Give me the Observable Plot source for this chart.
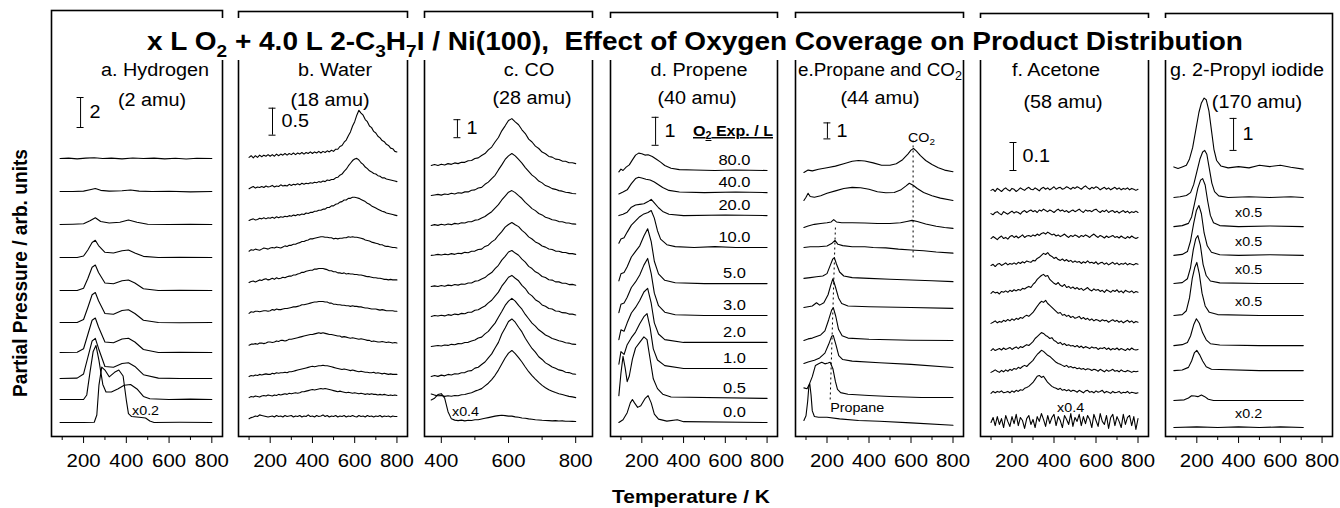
<!DOCTYPE html>
<html><head><meta charset="utf-8">
<script src="https://cdn.jsdelivr.net/npm/d3@7"></script>
<script src="https://cdn.jsdelivr.net/npm/@observablehq/plot@0.6"></script>
<style>
body{margin:0;background:#fff;}
#fig{position:relative;width:1340px;height:508px;overflow:hidden;background:#fff;font-family:"Liberation Sans",Arial,sans-serif;}
#fig svg{position:absolute;top:0;}
</style></head><body><div id="fig"></div>
<script>
const FONT = "'Liberation Sans', Arial, Helvetica, sans-serif";
// ---- data ----
const exposures = ["80.0","40.0","20.0","10.0","5.0","3.0","2.0","1.0","0.5","0.0"];
const tFine = d3.range(100, 801, 10);   // sample temperatures, water & acetone
const tCO = d3.range(370, 801, 10);     // sample temperatures, CO

// a. Hydrogen (2 amu) [T, intensity]
const hydrogenOffsets = [18.53,16.33,14.13,11.93,9.73,7.6,5.6,3.87,2.47,0.93];
const hydrogenFactor = ["","","","","","","","","","x0.2"];
const hydrogen = [
 [[90,0],[130,.03],[170,-.02],[210,.03],[250,.05],[290,0],[330,.03],[380,-.02],[430,.04],[480,0],[530,.03],[580,-.02],[630,.02],[680,-.03],[730,.02],[800,0]],
 [[90,0],[150,0],[200,.03],[230,.12],[255,.2],[280,.08],[320,.03],[380,.05],[420,.1],[460,.03],[520,0],[600,.02],[700,-.02],[800,0]],
 [[90,0],[150,.02],[200,.05],[230,.25],[255,.45],[280,.2],[320,.1],[370,.15],[410,.3],[450,.15],[500,.02],[600,0],[700,.02],[800,0]],
 [[90,0],[170,0],[200,.1],[220,.5],[240,1.0],[255,1.15],[270,.8],[300,.35],[340,.3],[380,.45],[410,.5],[440,.3],[480,.08],[550,0],[650,.02],[800,0]],
 [[90,0],[170,0],[200,.15],[220,.8],[240,1.55],[255,1.7],[270,1.2],[300,.5],[340,.45],[380,.65],[410,.7],[440,.5],[480,.12],[550,0],[650,.02],[800,0]],
 [[90,0],[170,0],[200,.2],[220,1.0],[240,1.85],[255,2.0],[270,1.45],[300,.6],[340,.55],[380,.8],[410,.85],[440,.6],[480,.15],[550,0],[650,-.02],[800,0]],
 [[90,0],[170,.02],[200,.25],[220,1.2],[240,2.15],[255,2.3],[270,1.7],[300,.7],[340,.65],[380,.9],[410,.95],[440,.7],[480,.2],[550,0],[650,.02],[800,0]],
 [[90,0],[170,.02],[200,.3],[220,1.4],[240,2.5],[255,2.67],[270,2.0],[300,.8],[340,.75],[380,1.0],[410,1.05],[440,.8],[480,.25],[550,.02],[650,0],[800,0]],
 [[90,0],[200,0],[215,.3],[230,1.8],[245,3.2],[258,3.6],[272,2.6],[290,1.0],[305,.5],[330,.5],[360,.7],[390,.95],[420,1.0],[450,.7],[480,.2],[510,.05],[600,0],[700,.02],[800,0]],
 [[90,0],[200,0],[250,.02],[262,.5],[272,2.5],[285,3.7],[300,3.5],[320,3.05],[345,3.35],[365,3.5],[385,3.1],[400,1.5],[410,.6],[425,.4],[460,.35],[490,.3],[510,.1],[530,0],[650,.02],[800,0]]
];

// b. Water (18 amu), sampled on tFine
const waterOffsets = [5.17,4.59,4.0,3.43,2.85,2.28,1.69,1.11,0.72,0.33];
const water = [
 [0,.03,-.01,.03,0,.04,.01,.04,.02,.05, .02,.05,.02,.06,.03,.06,.04,.07,.04,.07, .05,.08,.05,.08,.06,.09,.06,.09,.07,.1, .07,.1,.08,.11,.08,.11,.09,.12,.1,.13, .11,.15,.15,.2,.22,.28,.32,.4,.47,.58, .66,.78,.87,.82,.78,.7,.66,.58,.55,.48, .45,.39,.36,.31,.29,.24,.22,.17,.16,.11,.1],
 [0,.02,.04,.01,.03,.02,.04,.02,.05,.03, .04,.06,.03,.05,.04,.07,.05,.06,.05,.08, .06,.08,.07,.09,.07,.1,.08,.1,.09,.11, .1,.12,.11,.13,.12,.14,.13,.16,.15,.17, .17,.2,.21,.25,.27,.32,.36,.42,.47,.52, .55,.56,.53,.48,.45,.4,.37,.33,.31,.28, .27,.24,.23,.2,.2,.18,.17,.16,.15,.14,.13],
 [0,.02,.03,.01,.02,.04,.03,.05,.03,.05, .04,.06,.04,.07,.05,.07,.06,.08,.07,.09, .08,.1,.09,.11,.1,.12,.11,.14,.13,.15, .15,.17,.17,.19,.19,.21,.21,.24,.24,.27, .27,.3,.31,.34,.35,.38,.38,.41,.41,.43, .43,.42,.41,.39,.37,.35,.32,.3,.27,.25, .23,.21,.19,.17,.16,.14,.13,.12,.11,.1,.09],
 [0,.03,.02,.04,.03,.02,.04,.06,.05,.04, .06,.07,.06,.08,.07,.06,.08,.1,.09,.11, .11,.13,.13,.15,.16,.18,.18,.2,.21,.23, .23,.24,.25,.26,.27,.27,.26,.26,.25,.25, .23,.24,.23,.24,.24,.25,.25,.27,.26,.27, .26,.26,.25,.24,.23,.21,.2,.19,.17,.16, .15,.14,.12,.12,.1,.09,.09,.08,.07,.07,.06],
 [0,.02,.03,.01,.03,.05,.04,.06,.07,.05, .06,.08,.06,.09,.07,.08,.1,.09,.11,.12, .12,.14,.14,.16,.17,.19,.19,.21,.22,.23, .23,.25,.25,.26,.26,.26,.25,.24,.22,.22, .2,.2,.18,.18,.17,.18,.16,.17,.16,.16, .15,.15,.14,.14,.13,.12,.11,.11,.1,.09, .09,.08,.08,.07,.06,.06,.05,.06,.05,.05,.05],
 [0,.03,.02,.04,.04,.03,.04,.05,.05,.04, .05,.07,.06,.08,.07,.07,.08,.09,.09,.1, .11,.12,.12,.13,.14,.16,.16,.17,.18,.19, .2,.21,.21,.22,.22,.22,.21,.21,.19,.19, .17,.17,.16,.16,.15,.15,.14,.14,.13,.14, .13,.13,.12,.12,.11,.1,.1,.09,.08,.08, .08,.07,.06,.07,.06,.05,.05,.05,.05,.04,.04],
 [0,.02,.02,.03,.02,.04,.04,.03,.04,.06, .06,.05,.06,.08,.07,.09,.09,.08,.09,.11, .11,.12,.13,.14,.15,.16,.17,.18,.19,.2, .2,.21,.22,.23,.22,.23,.22,.21,.2,.2, .19,.18,.17,.17,.15,.16,.15,.14,.13,.14, .13,.12,.11,.12,.11,.1,.09,.09,.07,.08, .07,.06,.06,.07,.06,.05,.06,.05,.04,.05,.04],
 [0,.02,.01,.03,.02,.04,.03,.04,.05,.04, .04,.06,.05,.07,.06,.07,.07,.08,.07,.09, .09,.1,.11,.12,.13,.14,.15,.16,.17,.18, .19,.18,.19,.2,.2,.21,.2,.2,.19,.18, .17,.16,.15,.14,.13,.14,.13,.12,.11,.12, .11,.1,.09,.1,.09,.08,.08,.07,.07,.08, .06,.07,.06,.05,.06,.05,.04,.05,.04,.04,.04],
 [0,.02,.01,.03,.02,.01,.03,.04,.03,.05, .04,.03,.05,.04,.06,.05,.06,.07,.06,.08, .07,.08,.09,.08,.09,.11,.11,.12,.13,.14, .15,.14,.15,.16,.17,.16,.17,.16,.15,.14, .13,.12,.11,.12,.11,.1,.09,.1,.09,.08, .09,.08,.07,.08,.07,.06,.07,.06,.07,.06, .06,.05,.06,.05,.06,.05,.04,.05,.04,.05,.04],
 [0,.02,.03,.05,.04,.07,.06,.05,.04,.03, .04,.05,.03,.06,.04,.05,.03,.06,.04,.05, .06,.03,.05,.04,.06,.03,.05,.04,.07,.04, .05,.03,.06,.04,.05,.07,.04,.06,.03,.05, .04,.06,.03,.05,.04,.06,.03,.05,.04,.06, .04,.03,.06,.04,.05,.03,.06,.04,.05,.03, .05,.04,.06,.03,.05,.04,.05,.03,.05,.04,.04]
];

// c. CO (28 amu), sampled on tCO
const coOffsets = [15.06,13.39,11.72,10.06,8.33,6.67,5.0,3.33,2.06,0.83];
const coFactor = ["","","","","","","","","","x0.4"];
const co = [
 [0,.05,0,.07,.02,.1,.06,.14,.1,.18, .17,.26,.27,.38,.42,.55,.66,.86,1.02,1.3, 1.55,1.92,2.2,2.5,2.6,2.42,2.26,1.98,1.77,1.46, 1.3,1.07,.94,.74,.65,.5,.46,.35,.33,.24, .23,.15,.15,.1],
 [0,.03,.06,.02,.08,.05,.12,.08,.15,.13, .2,.2,.29,.31,.42,.45,.62,.74,.94,1.12, 1.42,1.7,2.0,2.2,2.33,2.2,2.0,1.8,1.55,1.34, 1.13,.99,.8,.7,.55,.48,.38,.34,.27,.24, .18,.16,.11,.1],
 [0,.05,.01,.07,.03,.09,.05,.12,.09,.15, .14,.21,.21,.3,.32,.42,.5,.64,.77,.97, 1.16,1.42,1.64,1.85,1.94,1.83,1.66,1.5,1.29,1.12, .94,.83,.67,.59,.46,.41,.32,.29,.22,.21, .15,.14,.09,.08],
 [0,.02,.06,.02,.07,.04,.1,.06,.12,.1, .17,.15,.23,.24,.33,.35,.5,.57,.75,.88, 1.12,1.32,1.57,1.72,1.83,1.7,1.6,1.39,1.24,1.03, .91,.75,.66,.52,.46,.36,.33,.24,.23,.17, .16,.1,.1,.06],
 [0,.04,0,.06,.02,.08,.05,.11,.08,.14, .13,.2,.2,.3,.32,.42,.5,.66,.78,1.0, 1.18,1.47,1.68,1.92,2.0,1.86,1.74,1.52,1.36,1.12, 1.0,.82,.72,.56,.5,.38,.36,.26,.26,.18, .18,.11,.12,.07],
 [0,.05,.02,.07,.03,.1,.06,.13,.1,.17, .15,.23,.23,.34,.37,.48,.58,.75,.9,1.13, 1.35,1.68,1.92,2.18,2.28,2.12,1.98,1.73,1.55,1.28, 1.14,.93,.82,.64,.57,.44,.41,.3,.29,.21, .2,.13,.13,.08],
 [0,.03,.06,.03,.08,.06,.12,.1,.16,.15, .22,.23,.31,.36,.47,.52,.7,.84,1.08,1.3, 1.62,1.94,2.28,2.52,2.67,2.52,2.28,2.07,1.78,1.54, 1.3,1.13,.93,.79,.64,.55,.45,.39,.32,.28, .21,.19,.13,.12],
 [0,.06,.01,.08,.04,.12,.09,.16,.14,.21, .22,.31,.33,.47,.52,.67,.81,1.04,1.26,1.59, 1.9,2.36,2.7,3.06,3.2,3.02,2.74,2.48,2.13,1.84, 1.56,1.36,1.1,.95,.76,.66,.53,.46,.37,.33, .24,.22,.15,.13],
 [.3,.24,.2,.22,.17,.2,.18,.22,.2,.26, .27,.33,.37,.46,.52,.6,.75,.9,1.1,1.34, 1.63,1.97,2.3,2.57,2.72,2.54,2.32,2.08,1.8,1.54, 1.32,1.13,.95,.78,.65,.54,.46,.38,.32,.27, .22,.17,.14,.1],
 [1.2,1.3,1.5,1.55,1.3,.55,.15,.08,.05,.08, .04,.07,.06,.1,.1,.14,.18,.22,.26,.3, .33,.35,.33,.3,.3,.26,.24,.2,.18,.15, .13,.1,.09,.07,.06,.05,.04,.05,.03,.04, .02,.02,.01,0]
];

// d. Propene (40 amu)
const propeneOffsets = [9.5,8.71,7.89,6.75,5.46,4.32,3.36,2.43,1.36,0.5];
const propene = [
 [[90,-.05],[100,.05],[110,0],[125,.12],[140,.2],[155,.38],[170,.55],[185,.62],[200,.6],[215,.55],[230,.56],[250,.5],[270,.4],[290,.3],[310,.18],[340,.08],[380,.03],[450,.02],[550,0],[650,.02],[800,0]],
 [[90,-.05],[110,.02],[130,.1],[150,.32],[170,.5],[185,.55],[200,.52],[220,.48],[240,.45],[260,.38],[280,.28],[300,.18],[330,.08],[380,.02],[500,0],[650,.02],[800,0]],
 [[90,0],[110,.05],[130,.12],[150,.3],[170,.38],[190,.4],[210,.42],[230,.5],[245,.58],[260,.45],[280,.28],[300,.15],[330,.05],[400,0],[600,.02],[800,0]],
 [[90,.15],[100,.3],[115,.35],[130,.55],[150,.8],[170,.95],[190,1.1],[210,1.2],[230,1.25],[245,1.32],[260,1.05],[275,.6],[290,.3],[320,.1],[360,.03],[450,0],[550,.03],[650,0],[800,0]],
 [[90,.1],[100,.35],[115,.4],[130,.6],[150,.95],[170,1.15],[190,1.35],[210,1.7],[228,1.96],[245,1.5],[260,.8],[280,.35],[310,.12],[360,.03],[500,0],[800,0]],
 [[90,.1],[100,.4],[115,.45],[130,.65],[150,1.0],[170,1.2],[190,1.45],[210,1.8],[228,2.04],[245,1.5],[260,.8],[280,.35],[310,.12],[360,.03],[500,0],[800,0]],
 [[90,.1],[100,.45],[115,.4],[130,.7],[150,1.05],[170,1.25],[190,1.5],[210,1.8],[228,1.93],[245,1.4],[260,.7],[280,.3],[310,.1],[400,0],[800,0]],
 [[90,.15],[100,.6],[115,.5],[130,.85],[150,1.1],[170,1.3],[190,1.6],[210,1.85],[225,1.96],[240,1.45],[255,.7],[275,.3],[310,.1],[400,0],[800,0]],
 [[90,.1],[100,.9],[110,1.5],[120,1.1],[130,.6],[140,.8],[155,1.4],[170,1.8],[190,2.0],[210,2.2],[225,2.1],[240,1.4],[255,.7],[275,.35],[300,.15],[340,.05],[800,0]],
 [[90,0],[110,.1],[130,.35],[145,.7],[155,.82],[165,.7],[180,.54],[195,.6],[215,.85],[230,.96],[245,.7],[260,.3],[280,.12],[320,.05],[370,.1],[400,.03],[800,0]]
];

// e. Propane and CO2 (44 amu)
const propaneOffsets = [16.5,14.75,13.06,11.81,9.88,8.06,6.0,4.56,2.44,1.0];
const propane = [
 [[90,0],[110,.15],[130,.1],[160,.2],[200,.3],[240,.4],[280,.55],[320,.7],[350,.75],[380,.72],[420,.6],[460,.45],[500,.45],[530,.55],[560,.8],[585,1.15],[600,1.4],[612,1.5],[625,1.35],[645,1.05],[670,.75],[700,.5],[730,.3],[760,.15],[800,.05]],
 [[90,0],[100,.2],[110,.45],[120,.25],[140,.2],[170,.3],[200,.45],[240,.6],[280,.75],[320,.82],[360,.8],[400,.7],[440,.55],[480,.48],[520,.5],[550,.65],[575,.9],[592,1.08],[610,.95],[630,.75],[660,.5],[700,.3],[740,.15],[800,0]],
 [[90,0],[110,.1],[140,.2],[170,.25],[200,.3],[220,.35],[232,.5],[245,.35],[270,.3],[320,.3],[380,.28],[440,.25],[500,.25],[550,.3],[580,.38],[605,.45],[630,.38],[670,.22],[720,.08],[760,0],[800,-.05]],
 [[90,0],[120,.05],[160,.05],[200,.1],[222,.25],[238,.45],[252,.2],[275,.12],[320,.05],[380,.05],[420,0],[480,-.02],[540,-.1],[600,-.15],[660,-.2],[720,-.28],[800,-.35]],
 [[90,0],[120,.05],[150,.1],[180,.15],[200,.3],[215,.8],[227,1.2],[235,1.3],[245,.9],[260,.4],[280,.15],[320,.05],[400,0],[500,-.05],[600,-.1],[700,-.15],[800,-.2]],
 [[90,0],[110,.05],[130,.1],[150,.3],[165,.15],[185,.3],[205,.8],[218,1.4],[228,1.8],[240,1.3],[255,.6],[270,.25],[300,.1],[400,.05],[600,0],[800,-.05]],
 [[90,0],[110,.1],[130,.15],[150,.25],[170,.35],[190,.6],[208,1.3],[222,1.9],[230,2.05],[242,1.5],[255,.7],[272,.3],[300,.15],[400,.08],[600,.02],[800,0]],
 [[90,0],[110,.1],[140,.2],[165,.35],[190,.65],[208,1.2],[222,1.7],[230,1.75],[242,1.2],[256,.5],[275,.25],[320,.15],[450,.05],[600,-.05],[800,-.25]],
 [[90,.6],[105,.55],[115,.8],[130,1.3],[145,2.0],[160,2.1],[175,2.2],[190,2.1],[205,2.15],[215,2.2],[228,1.8],[240,1.0],[250,.5],[265,.3],[300,.2],[400,.12],[500,.06],[650,0],[800,0]],
 [[90,0],[100,.3],[108,1.2],[114,2.2],[118,2.3],[124,1.6],[130,.6],[140,.25],[160,.2],[200,.2],[260,.1],[350,0],[450,-.05],[600,-.15],[800,-.3]]
];
const co2PeakT = 610;
const propanePeakT = [240, 215];

// f. Acetone (58 amu), sampled on tFine
const acetoneOffsets = [0.879,0.796,0.707,0.611,0.511,0.404,0.307,0.229,0.154,0.05];
const acetoneFactor = ["","","","","","","","","","x0.4"];
const acetone = [
 [0,.004,-.004,.007,.002,-.004,.004,.009,.002,-.002,.007,.004,-.004,.002,.009,.004,0,.007,.011,.004,.002,.009,.004,-.002,.007,.011,.004,.009,.002,.007,.013,.004,.009,.011,.004,.007,.013,.009,.004,.011,.007,.013,.009,.004,.011,.016,.009,.004,.011,.007,.013,.009,.002,.007,.011,.004,.009,.002,.007,.011,.004,.009,.002,.007,.004,.009,.002,.007,.004,0,.004],
 [0,-.004,.004,.007,0,-.004,.007,.002,-.002,.004,.009,.002,.007,.004,-.002,.007,.011,.004,.009,.013,.007,.011,.004,.013,.009,.016,.011,.007,.013,.009,.004,.011,.016,.009,.013,.007,.011,.004,.009,.013,.007,.011,.016,.009,.004,.013,.009,.011,.007,.013,.016,.009,.004,.011,.007,.013,.004,.009,.011,.004,.009,.002,.007,.011,.004,.009,.002,.007,.004,.009,.004],
 [0,.007,.002,-.004,.004,.009,0,.004,-.002,.007,.011,.004,.009,.002,.007,.013,.004,.009,.011,.007,.013,.009,.016,.011,.018,.021,.016,.023,.018,.013,.016,.009,.013,.007,.011,.016,.009,.004,.011,.007,.013,.009,.004,.011,.007,.013,.009,.004,.011,.016,.009,.004,.011,.007,.002,.009,.004,.007,.011,.004,.007,.002,.009,.004,0,.007,.002,.009,.004,0,.004],
 [0,.004,-.004,.004,.007,0,.004,.009,.002,.007,.004,.009,.004,.011,.007,.013,.009,.016,.013,.011,.018,.016,.025,.029,.036,.043,.039,.046,.036,.032,.025,.029,.021,.018,.023,.016,.021,.014,.018,.011,.016,.011,.014,.007,.013,.009,.016,.009,.011,.007,.013,.004,.009,.011,.004,.009,.002,.007,.011,.004,.009,.002,.007,.004,.009,.002,.007,.004,.002,.007,.004],
 [0,.007,.002,.004,-.002,.007,.004,.009,.004,.011,.007,.013,.009,.014,.011,.018,.016,.021,.025,.021,.032,.039,.05,.057,.064,.068,.061,.064,.05,.043,.036,.032,.039,.029,.025,.032,.021,.025,.018,.023,.016,.021,.014,.018,.011,.016,.021,.013,.009,.016,.011,.014,.007,.011,.004,.013,.009,.004,.011,.007,.013,.004,.009,.002,.011,.007,.004,.009,.002,.007,.004],
 [0,.004,.009,.002,.007,.004,.011,.007,.014,.009,.016,.011,.018,.014,.021,.018,.025,.029,.025,.032,.039,.05,.061,.071,.079,.075,.082,.071,.064,.057,.05,.043,.036,.039,.029,.032,.025,.029,.021,.025,.018,.021,.025,.016,.021,.014,.018,.011,.016,.009,.014,.011,.007,.013,.009,.011,.004,.009,.013,.007,.011,.004,.009,.002,.007,.011,.004,.009,.002,.007,.004],
 [0,.007,0,.004,.007,.002,.009,.004,.007,.011,.004,.009,.013,.007,.014,.011,.016,.021,.018,.025,.032,.043,.05,.057,.064,.061,.054,.05,.043,.046,.036,.032,.025,.029,.021,.025,.018,.021,.016,.018,.013,.018,.011,.016,.009,.014,.011,.007,.013,.009,.011,.004,.009,.007,.011,.004,.009,.002,.007,.004,.009,.002,.007,.004,0,.007,.002,.009,.004,.002,.004],
 [0,.004,.009,.004,0,.007,.002,.009,.004,.011,.007,.014,.011,.018,.014,.021,.025,.021,.029,.036,.043,.054,.064,.071,.079,.075,.068,.061,.057,.05,.043,.036,.032,.029,.025,.021,.025,.018,.021,.016,.018,.013,.016,.011,.014,.009,.013,.011,.007,.011,.009,.004,.011,.007,.002,.009,.004,.007,.011,.004,.007,.002,.009,.004,.002,.007,.004,0,.004,.002,.004],
 [0,.007,.002,.007,.004,.009,.002,.004,.007,.002,.009,.004,.011,.007,.013,.011,.018,.021,.025,.032,.039,.05,.061,.064,.057,.061,.05,.039,.032,.025,.021,.018,.014,.018,.011,.014,.009,.013,.007,.011,.009,.004,.011,.007,.002,.009,.011,.004,.007,.002,.009,.004,.007,.011,.002,.007,.004,0,.007,.002,.004,.007,0,.004,.002,.007,0,.004,.002,0,.002],
 [0,.018,-.011,.021,-.007,.014,-.018,.025,.004,-.014,.021,-.004,.029,-.011,.018,.007,-.021,.014,.025,-.007,.011,-.018,.021,.004,.032,.011,-.014,.025,-.004,.018,.029,-.011,.021,.007,-.018,.025,.011,-.007,.032,-.014,.018,.004,.029,-.011,.021,-.004,.025,.011,-.018,.029,.007,-.014,.032,.004,-.007,.025,-.021,.018,.029,-.011,.021,.004,-.018,.029,-.007,.018,.025,-.011,.021,-.025,.014]
];

// g. 2-Propyl iodide (170 amu)
const iodideOffsets = [8.375,7.47,6.56,5.66,4.78,3.78,2.84,2.06,1.125,0.28];
const iodideFactor = ["","","x0.5","x0.5","x0.5","x0.5","","","","x0.2"];
const iodide = [
 [[90,.05],[110,0],[130,.05],[150,.1],[165,.3],[180,.65],[195,1.2],[210,1.75],[222,2.05],[235,2.2],[245,2.15],[258,1.8],[270,1.2],[282,.6],[295,.25],[315,.08],[350,.02],[400,.06],[450,.02],[500,.1],[550,.06],[600,.1],[650,.04],[710,-.02]],
 [[90,0],[120,.02],[150,.06],[170,.15],[185,.4],[200,.8],[215,1.2],[228,1.42],[238,1.47],[248,1.35],[260,.9],[272,.45],[285,.18],[305,.05],[350,0],[450,.02],[550,0],[650,.02],[710,0]],
 [[90,0],[130,.03],[160,.1],[175,.3],[190,.75],[205,1.2],[218,1.45],[228,1.5],[240,1.3],[252,.8],[265,.35],[280,.12],[310,.03],[400,0],[550,.02],[710,0]],
 [[90,0],[130,.03],[155,.12],[170,.45],[185,1.0],[198,1.4],[210,1.56],[222,1.3],[235,.7],[250,.3],[270,.1],[310,.02],[400,0],[550,.02],[710,0]],
 [[90,0],[130,.03],[155,.15],[170,.5],[183,1.05],[195,1.4],[205,1.5],[217,1.2],[230,.6],[245,.25],[265,.08],[310,.02],[500,0],[710,0]],
 [[90,0],[130,.03],[150,.15],[165,.55],[178,1.15],[190,1.5],[200,1.66],[212,1.3],[225,.7],[240,.3],[260,.1],[300,.03],[500,0],[710,0]],
 [[90,0],[130,.03],[155,.1],[170,.3],[185,.65],[198,.84],[212,.7],[228,.4],[245,.18],[265,.06],[310,.02],[500,0],[710,0]],
 [[90,0],[130,.02],[160,.1],[175,.3],[188,.55],[200,.63],[213,.5],[228,.3],[245,.12],[270,.04],[500,0],[710,0]],
 [[90,0],[140,.02],[160,.08],[175,.15],[190,.14],[205,.12],[222,.17],[238,.12],[255,.04],[280,0],[500,0],[710,0]],
 [[90,0],[200,.02],[300,0],[400,.02],[500,0],[600,.02],[710,0]]
];

// ---- layout ----
const fig = document.getElementById("fig");
const onGrid = (arr, grid) => arr.map(tr => tr.map((v, j) => [grid[j], v]).filter(p => p[0] !== undefined));

function panel({box, domain, k, offsets, traces, major, minor, bar, factors, factorAt, extra = []}) {
  const pad = 4;
  const rows = traces.flatMap((tr, i) => tr.map(([T, v]) => ({i, T, y: offsets[i] + v})));
  const H = (box.bottom - box.top) / k;
  const capK = 3.5 * (domain[1] - domain[0]) / (box.right - box.left);
  const marks = [
    Plot.line(rows, {x: "T", y: "y", z: "i", stroke: "black", strokeWidth: 1.1}),
    Plot.ruleX([bar], {x: "T", y1: "y0", y2: d => d.y0 + d.value, stroke: "black", strokeWidth: 1}),
    Plot.ruleY([bar.y0, bar.y0 + bar.value], {y: d => d, x1: bar.T - capK, x2: bar.T + capK, stroke: "black", strokeWidth: 1}),
    Plot.text([bar], {x: "T", y: d => d.y0 + d.value / 2, text: "label", textAnchor: "start", dx: 9, fontSize: 18}),
    Plot.axisX({ticks: major, tickSize: 7, tickPadding: 10, fontSize: 18.5, label: null, tickFormat: d => String(d)}),
    Plot.axisX({ticks: minor, tickSize: 4, label: null, tickFormat: () => ""}),
    Plot.frame({stroke: "black", strokeWidth: 1.6})
  ];
  if (factors) {
    marks.push(Plot.text(factors.map((f, i) => ({f, y: offsets[i]})).filter(d => d.f), {
      x: factorAt.T, y: "y", text: "f", dy: factorAt.dy, fontSize: 13}));
  }
  marks.push(...extra);
  const chart = Plot.plot({
    width: box.right - box.left + 2 * pad, height: 508,
    marginLeft: pad, marginRight: pad, marginTop: box.top, marginBottom: 508 - box.bottom,
    x: {domain, axis: null, label: null},
    y: {domain: [0, H], axis: null, label: null},
    style: {fontFamily: FONT, background: "transparent", overflow: "visible", color: "black"},
    marks
  });
  chart.style.left = (box.left - pad) + "px";
  fig.append(chart);
}

panel({box: {left: 51, right: 222, top: 10, bottom: 436}, domain: [50, 850], k: 15,
  offsets: hydrogenOffsets, traces: hydrogen, major: [200,400,600,800], minor: [100,300,500,700],
  bar: {T: 186, y0: 20.6, value: 2, label: "2"}, factors: hydrogenFactor, factorAt: {T: 490, dy: -12}});

panel({box: {left: 238, right: 407, top: 11, bottom: 436}, domain: [50, 850], k: 54,
  offsets: waterOffsets, traces: onGrid(water, tFine), major: [200,400,600,800], minor: [100,300,500,700],
  bar: {T: 211, y0: 5.58, value: 0.5, label: "0.5"}});

panel({box: {left: 424, right: 592, top: 11, bottom: 436}, domain: [350, 850], k: 18,
  offsets: coOffsets, traces: onGrid(co, tCO), major: [400,600,800], minor: [500,700],
  bar: {T: 448, y0: 16.6, value: 1, label: "1"}, factors: coFactor, factorAt: {T: 472, dy: -10}});

const propeneLabels = exposures.map((e, i) => ({e, y: propeneOffsets[i]}));
panel({box: {left: 610, right: 777, top: 12, bottom: 436}, domain: [50, 850], k: 28,
  offsets: propeneOffsets, traces: propene, major: [200,400,600,800], minor: [100,300,500,700],
  bar: {T: 266, y0: 10.4, value: 1, label: "1"},
  extra: [Plot.text(propeneLabels, {x: 644, y: "y", text: "e", dy: -10, fontSize: 15})]});

const propaneEnd = {T: propanePeakT[1], y: 2.25};
panel({box: {left: 795, right: 963, top: 12, bottom: 436}, domain: [50, 850], k: 16,
  offsets: propaneOffsets, traces: propane, major: [200,400,600,800], minor: [100,300,500,700],
  bar: {T: 202, y0: 18.6, value: 1, label: "1"},
  extra: [
    Plot.link([{x1: co2PeakT, y1: 11.19, x2: co2PeakT, y2: 18.6}, {x1: propanePeakT[0], y1: 13.06, x2: propanePeakT[1], y2: propaneEnd.y}],
      {x1: "x1", y1: "y1", x2: "x2", y2: "y2", stroke: "black", strokeWidth: 1, strokeDasharray: "2,3"}),
    Plot.text([propaneEnd], {x: "T", y: "y", text: () => "Propane", textAnchor: "start", lineAnchor: "top", dy: 2, fontSize: 13})
  ]});

panel({box: {left: 980, right: 1148, top: 13, bottom: 436}, domain: [50, 850], k: 280,
  offsets: acetoneOffsets, traces: onGrid(acetone, tFine), major: [200,400,600,800], minor: [100,300,500,700],
  bar: {T: 207, y0: 0.95, value: 0.1, label: "0.1"}, factors: acetoneFactor, factorAt: {T: 479, dy: -15}});

panel({box: {left: 1165, right: 1332, top: 13, bottom: 436}, domain: [50, 850], k: 32,
  offsets: iodideOffsets, traces: iodide, major: [200,400,600,800], minor: [100,300,500,700],
  bar: {T: 376, y0: 8.94, value: 1, label: "1"}, factors: iodideFactor, factorAt: {T: 448, dy: -14}});

// ---- overlay texts ----
const ov = document.createElementNS("http://www.w3.org/2000/svg", "svg");
ov.setAttribute("width", 1340); ov.setAttribute("height", 508);
ov.style.left = "0px"; ov.style.fontFamily = FONT; ov.style.pointerEvents = "none";
ov.innerHTML = `
<rect x="141" y="18" width="1110" height="42" fill="white"/>
<text x="147" y="50" font-weight="bold" font-size="25" style="white-space:pre" textLength="1096" lengthAdjust="spacingAndGlyphs">x L O<tspan dy="7" font-size="17">2</tspan><tspan dy="-7"> + 4.0 L 2-C</tspan><tspan dy="7" font-size="17">3</tspan><tspan dy="-7">H</tspan><tspan dy="7" font-size="17">7</tspan><tspan dy="-7">I / Ni(100),  Effect of Oxygen Coverage on Product Distribution</tspan></text>
<g font-size="18" text-anchor="middle" style="white-space:pre">
<text x="155" y="76">a.  Hydrogen</text><text x="152" y="106">(2 amu)</text>
<text x="335" y="76">b.  Water</text><text x="330" y="106">(18 amu)</text>
<text x="529" y="76">c.  CO</text><text x="532" y="104">(28 amu)</text>
<text x="699" y="76">d.  Propene</text><text x="697" y="104">(40 amu)</text>
<text x="880" y="104">(44 amu)</text>
<text x="1056" y="76">f.  Acetone</text><text x="1063" y="108">(58 amu)</text>
<text x="1247" y="76">g.  2-Propyl iodide</text><text x="1257" y="108">(170 amu)</text>
</g>
<text x="798" y="76" font-size="18" textLength="164" lengthAdjust="spacingAndGlyphs">e.Propane and CO<tspan dy="4" font-size="12">2</tspan></text>
<text x="693" y="136" font-size="15" font-weight="bold" text-decoration="underline" textLength="80" lengthAdjust="spacingAndGlyphs">O<tspan dy="3" font-size="10">2</tspan><tspan dy="-3"> Exp. / L</tspan></text>
<text x="908" y="142" font-size="13">CO<tspan dy="3" font-size="9">2</tspan></text>
<text transform="translate(27,273) rotate(-90)" text-anchor="middle" font-weight="bold" font-size="20" textLength="248" lengthAdjust="spacingAndGlyphs">Partial Pressure / arb. units</text>
<text x="691" y="503" text-anchor="middle" font-weight="bold" font-size="18" textLength="158" lengthAdjust="spacingAndGlyphs">Temperature / K</text>
`;
fig.append(ov);

// horizontal stretch of the reproduced lettering
document.querySelectorAll("#fig svg text").forEach(t => {
  if (t.hasAttribute("textLength")) return;
  const L = t.getComputedTextLength();
  if (L > 0) { t.setAttribute("textLength", (L * 1.1).toFixed(1)); t.setAttribute("lengthAdjust", "spacingAndGlyphs"); }
});
</script></body></html>
